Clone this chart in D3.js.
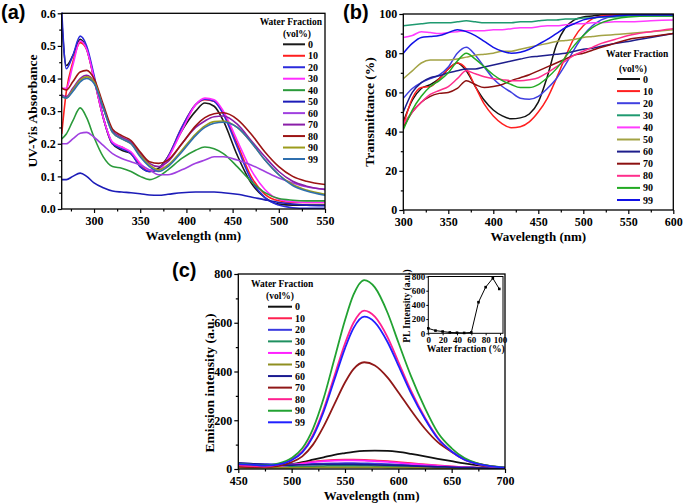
<!DOCTYPE html>
<html><head><meta charset="utf-8">
<script src="https://cdn.jsdelivr.net/npm/d3@7"></script>
<style>body{margin:0;background:#fff}svg{display:block}</style>
</head><body><svg id="c" width="685" height="503"></svg>
<script>
// ---------- shared ----------
const fractions = ["0","10","20","30","40","50","60","70","80","90","99"];

// ---------- panel (a): UV-Vis absorbance ----------
const wlA = [265,270,277,285,292,300,310,320,330,340,350,360,370,380,395,410,420,430,440,455,470,485,500,515,530,550];
const absA = [
 [0.58,0.44,0.47,0.52,0.49,0.40,0.28,0.20,0.18,0.17,0.13,0.115,0.125,0.16,0.24,0.30,0.325,0.315,0.27,0.165,0.08,0.035,0.015,0.012,0.012,0.012],
 [0.23,0.36,0.45,0.51,0.49,0.40,0.28,0.20,0.19,0.17,0.135,0.115,0.12,0.16,0.25,0.32,0.335,0.33,0.295,0.20,0.10,0.045,0.025,0.02,0.02,0.02],
 [0.61,0.43,0.47,0.53,0.50,0.41,0.28,0.20,0.185,0.17,0.13,0.115,0.12,0.16,0.25,0.32,0.337,0.33,0.29,0.19,0.09,0.035,0.012,0.004,0.002,0.002],
 [0.37,0.37,0.44,0.515,0.49,0.40,0.28,0.205,0.19,0.175,0.14,0.12,0.12,0.155,0.24,0.32,0.34,0.335,0.30,0.21,0.12,0.06,0.03,0.022,0.02,0.02],
 [0.215,0.23,0.27,0.31,0.28,0.22,0.16,0.13,0.125,0.115,0.10,0.09,0.10,0.12,0.155,0.18,0.19,0.185,0.17,0.13,0.085,0.05,0.032,0.027,0.025,0.025],
 [0.09,0.09,0.10,0.11,0.10,0.08,0.065,0.055,0.052,0.05,0.047,0.043,0.042,0.045,0.05,0.052,0.052,0.052,0.05,0.045,0.037,0.028,0.02,0.015,0.012,0.01],
 [0.20,0.20,0.215,0.232,0.235,0.22,0.195,0.17,0.155,0.145,0.135,0.12,0.105,0.105,0.12,0.14,0.15,0.16,0.16,0.15,0.135,0.115,0.095,0.08,0.068,0.06],
 [0.35,0.345,0.37,0.40,0.41,0.39,0.31,0.24,0.22,0.205,0.17,0.14,0.13,0.145,0.20,0.25,0.27,0.283,0.285,0.26,0.21,0.16,0.115,0.085,0.07,0.06],
 [0.37,0.365,0.39,0.42,0.425,0.40,0.32,0.245,0.225,0.21,0.175,0.145,0.14,0.15,0.20,0.255,0.28,0.292,0.295,0.275,0.23,0.175,0.13,0.10,0.085,0.075],
 [0.345,0.34,0.365,0.395,0.405,0.39,0.31,0.235,0.215,0.20,0.165,0.135,0.12,0.135,0.18,0.23,0.255,0.268,0.27,0.25,0.205,0.15,0.105,0.075,0.058,0.045],
 [0.345,0.34,0.36,0.39,0.40,0.385,0.31,0.235,0.215,0.20,0.16,0.13,0.115,0.13,0.175,0.225,0.25,0.263,0.266,0.25,0.205,0.15,0.105,0.072,0.055,0.042]
];
const colorsA = ["#1a1a1a","#ff1f1f","#2b2bdc","#ff2cff","#2a9a3a","#1c1cb8","#a040e0","#8a1ea8","#9c1414","#9c9c1c","#2f6fae"];
const yTicksA = [0,0.1,0.2,0.3,0.4,0.5,0.6];
const xTicksA = [300,350,400,450,500,550];

// ---------- panel (b): transmittance ----------
const wlB = [300,310,320,330,340,350,360,370,380,390,400,410,420,430,440,450,460,470,480,490,500,510,520,535,550,575,600];
const transB = [
 [45,56,62,64,67,72,75,71,63,56,51,48,46.5,47,49,55,68,84,93,97,98.5,99,99.5,99.5,99.5,99.5,99.5],
 [43,57,62.5,63,67,72,75,72,63,54,48,44,42,42.5,45,50,57,67,78,88,94,97.5,99,99.5,99.5,99.5,99.5],
 [57,62,65,67,69,73,80,83,79,73,67,63,60,57,56.5,58,62,67,74,82,89,94,97,99,99.5,99.5,99.5],
 [94,94.5,95,95.5,95.5,95.5,96,96.5,96,95.5,95.5,95.5,95.5,96,96,96.5,97,97,97.5,97.5,98,98,98.5,98.5,99,99,99],
 [88,89,91,90.5,90,90.5,91,91.5,91.5,91.5,92,92,92.5,93,93,93.5,94,94,94.5,95,95,95.5,95.5,96,96,96.5,97],
 [67,71,75,76.5,76.5,76.5,77,78,79,79.5,80,81,81,82,83,84,85,86,86.5,87,88,88.5,89,89.5,90,91,92],
 [50,60,65,67.5,68.5,70,71,72,72,73,74,75,76,77,78,78.5,79,79.5,80,81,82,82.5,83.5,85,86,88,90],
 [42,50,55,58,59.5,60,62,66,64,62.5,63,64,66,67.5,69,71,73,75,77,79,80,81.5,83,85,87,88.5,90],
 [44,50,55,59,61,63,67,71,69.5,68,67,66.5,66,66,66.5,67.5,70,73,76,79,81,83,85,87,89,91,92.5],
 [41,51,58,63,66,70,76,80,77,73,69,66,64,62.5,62.5,64,67.5,72,78,84,89,93,95.5,97.5,98.5,99,99],
 [80,85,88,88.5,89,90.5,92,91,89,86,83,81,80,80.5,82,84.5,87,90,93,95,97,98,98.5,99,99.5,99.5,99.5]
];
const colorsB = ["#141414","#ff2020","#4040e0","#1f9a70","#ff3cff","#a3a345","#1e1e8c","#8c1010","#ff2e8c","#22aa22","#1212e6"];
const yTicksB = [0,20,40,60,80,100];
const xTicksB = [300,350,400,450,500,550,600];

// ---------- panel (c): emission ----------
const wlC = [450,462,475,487,500,510,520,530,540,550,558,568,578,590,600,612,625,637,650,662,675,687,700];
const emC = [
 [15,12,12,14,20,28,38,48,58,65,70,74,75,74,70,62,52,42,32,23,15,9,5],
 [10,9,9,12,18,24,30,34,37,38,38,37,35,32,28,24,19,15,11,8,6,4,3],
 [22,21,20,19,19,20,21,22,23,24,24,23,22,20,18,16,13,11,9,7,5,4,3],
 [12,10,9,9,9,10,11,12,13,13,13,13,12,11,10,9,8,7,6,5,4,3,2],
 [12,11,10,12,17,22,28,32,34,35,35,34,32,29,25,21,17,13,10,7,5,4,3],
 [6,5,5,5,5,6,6,7,7,7,7,7,7,6,6,5,5,4,4,3,3,2,2],
 [25,22,18,16,16,17,18,19,19,19,19,18,17,16,15,13,11,9,8,6,5,4,3],
 [10,8,8,12,28,52,100,175,265,355,410,438,425,375,315,240,165,110,70,40,22,12,6],
 [15,12,10,18,38,72,140,245,380,515,600,650,625,540,440,320,210,128,72,38,19,10,6],
 [22,18,15,22,45,85,165,290,450,610,715,775,745,640,520,380,250,150,85,45,22,12,7],
 [20,18,14,18,36,68,133,235,365,495,578,625,602,520,425,310,205,125,72,38,20,11,6]
];
const colorsC = ["#111111","#ff2050","#3a3ae0","#1f9060","#ff20ff","#8f8f20","#1a1a90","#901818","#ff2090","#22a232","#2020ff"];
const yTicksC = [0,200,400,600,800];
const xTicksC = [450,500,550,600,650,700];

// inset
const insetFrac = [0,10,20,30,40,50,60,70,80,90,99];
const insetPL = [70,38,25,12,8,5,12,438,650,775,625];
const insetXTicks = [0,20,40,60,80,100];
const insetYTicks = [0,200,400,600,800];

// ---------- drawing ----------
const svg = d3.select("#c");
svg.append("rect").attr("width",685).attr("height",503).attr("fill","#fff");
const SERIF = "'Liberation Serif','Times New Roman',serif";
const SANS = "'Liberation Sans',Arial,sans-serif";

function minorVals(maj){
  const out=[]; for(let i=0;i<maj.length-1;i++) out.push((maj[i]+maj[i+1])/2); return out;
}

function panel(c){
  const g = svg.append("g");
  const x = d3.scaleLinear().domain(c.xDom).range([c.L,c.R]);
  const y = d3.scaleLinear().domain(c.yDom).range([c.B,c.T]);
  const line = d3.line().curve(d3.curveMonotoneX).x(d=>x(d[0])).y(d=>y(d[1]));
  const clip = "clip"+c.id;
  g.append("clipPath").attr("id",clip).append("rect").attr("x",c.L).attr("y",c.T-1).attr("width",c.R-c.L).attr("height",c.B-c.T+1);
  const cg = g.append("g").attr("clip-path",`url(#${clip})`);
  c.vals.forEach((v,i)=>{
    cg.append("path").attr("d",line(c.wl.map((w,j)=>[w,v[j]])))
      .attr("fill","none").attr("stroke",c.colors[i]).attr("stroke-width",c.lw);
  });
  const styleAxis = a=>{a.select(".domain").remove(); a.selectAll("line").attr("stroke","#000").attr("stroke-width",1.2);
    a.selectAll("text").attr("font-family",SERIF).attr("font-weight","bold").attr("font-size",12).attr("fill","#000");};
  const xmin = c.xMinor || minorVals(c.xTicks);
  const ymin = c.yMinor || minorVals(c.yTicks);
  g.append("g").attr("transform",`translate(0,${c.B})`).call(d3.axisBottom(x).tickValues(xmin).tickSize(2.5).tickFormat("")).call(styleAxis);
  g.append("g").attr("transform",`translate(${c.L},0)`).call(d3.axisLeft(y).tickValues(ymin).tickSize(2.5).tickFormat("")).call(styleAxis);
  g.append("g").attr("transform",`translate(0,${c.B})`).call(d3.axisBottom(x).tickValues(c.xTicks).tickSize(4).tickPadding(3).tickFormat(d3.format("d"))).call(styleAxis);
  g.append("g").attr("transform",`translate(${c.L},0)`).call(d3.axisLeft(y).tickValues(c.yTicks).tickSize(4).tickPadding(2).tickFormat(c.yFmt)).call(styleAxis);
  g.append("rect").attr("x",c.L).attr("y",c.T).attr("width",c.R-c.L).attr("height",c.B-c.T)
    .attr("fill","none").attr("stroke","#000").attr("stroke-width",1.3);
  g.append("text").attr("x",(c.L+c.R)/2 + (c.xtDx||0)).attr("y",c.xtY).attr("text-anchor","middle")
    .attr("font-family",SERIF).attr("font-weight","bold").attr("font-size",13).text(c.xTitle);
  g.append("text").attr("transform",`translate(${c.ytX},${c.ytY}) rotate(-90)`).attr("text-anchor","middle")
    .attr("font-family",SERIF).attr("font-weight","bold").attr("font-size",13.5).text(c.yTitle);
  g.append("text").attr("x",c.labX).attr("y",c.labY).attr("font-family",SANS).attr("font-weight","bold")
    .attr("font-size",20).text(c.label);
  const lg = c.leg;
  g.append("text").attr("x",lg.t1x).attr("y",lg.t1y).attr("text-anchor",lg.t1a).attr("font-family",SERIF)
    .attr("font-weight","bold").attr("font-size",9.5).text("Water Fraction");
  g.append("text").attr("x",lg.t2x).attr("y",lg.t2y).attr("text-anchor","middle").attr("font-family",SERIF)
    .attr("font-weight","bold").attr("font-size",9.5).text("(vol%)");
  fractions.forEach((f,i)=>{
    const yy = lg.y0 + i*lg.dy;
    g.append("line").attr("x1",lg.x1).attr("x2",lg.x2).attr("y1",yy).attr("y2",yy)
      .attr("stroke",c.colors[i]).attr("stroke-width",2);
    g.append("text").attr("x",lg.x2+3).attr("y",yy+3.5).attr("font-family",SERIF).attr("font-weight","bold")
      .attr("font-size",10).text(f);
  });
  return g;
}

panel({id:"a",L:61.7,R:325,T:13.3,B:209,xDom:[265,550],yDom:[0,0.6],wl:wlA,vals:absA,colors:colorsA,lw:1.6,
  xTicks:xTicksA,yTicks:yTicksA,xMinor:[275,325,375,425,475,525],yMinor:[0.05,0.15,0.25,0.35,0.45,0.55],yFmt:d3.format(".1f"),
  xTitle:"Wavelength (nm)",xtY:239.5,yTitle:"UV-Vis Absorbance",ytX:37,ytY:111,label:"(a)",labX:1,labY:19,
  leg:{t1x:322,t1y:25,t1a:"end",t2x:297,t2y:37,x1:283,x2:305,y0:44.3,dy:11.47}});

panel({id:"b",L:403.3,R:673.3,T:14,B:210,xDom:[300,600],yDom:[0,100],wl:wlB,vals:transB,colors:colorsB,lw:1.5,
  xTicks:xTicksB,yTicks:yTicksB,yFmt:d3.format("d"),
  xTitle:"Wavelength (nm)",xtY:240.5,yTitle:"Transmittance (%)",ytX:373.5,ytY:112,label:"(b)",labX:343,labY:19,
  leg:{t1x:606,t1y:57,t1a:"start",t2x:633,t2y:72,x1:617,x2:640,y0:79,dy:12.1}});

panel({id:"c",L:238.3,R:505,T:274,B:469,xDom:[450,700],yDom:[0,800],wl:wlC,vals:emC,colors:colorsC,lw:1.8,
  xTicks:xTicksC,yTicks:yTicksC,yFmt:d3.format("d"),
  xTitle:"Wavelength (nm)",xtY:499.5,yTitle:"Emission intensity (a.u.)",ytX:213.5,ytY:383,label:"(c)",labX:172,labY:277,
  leg:{t1x:251,t1y:287,t1a:"start",t2x:280,t2y:299,x1:268,x2:292,y0:306.7,dy:11.56}});

// inset
(function(){
  const L=428.3,R=503,T=276.5,B=333.3;
  const g = svg.append("g");
  const x = d3.scaleLinear().domain([0,100]).range([L,500]);
  const y = d3.scaleLinear().domain([0,800]).range([B,T]);
  g.append("rect").attr("x",L).attr("y",T).attr("width",R-L).attr("height",B-T).attr("fill","#fff")
    .attr("stroke","#000").attr("stroke-width",1);
  const st = a=>{a.select(".domain").remove(); a.selectAll("line").attr("stroke","#000");
    a.selectAll("text").attr("font-family",SERIF).attr("font-weight","bold").attr("font-size",9).attr("fill","#000");};
  g.append("g").attr("transform",`translate(0,${B})`).call(d3.axisBottom(x).tickValues(insetXTicks).tickSize(2).tickPadding(1).tickFormat(d3.format("d"))).call(st);
  g.append("g").attr("transform",`translate(${L},0)`).call(d3.axisLeft(y).tickValues(insetYTicks).tickSize(2).tickPadding(1).tickFormat(d3.format("d"))).call(st);
  const pts = insetFrac.map((f,i)=>[f,insetPL[i]]);
  g.append("path").attr("d",d3.line().x(d=>x(d[0])).y(d=>y(d[1]))(pts)).attr("fill","none").attr("stroke","#000").attr("stroke-width",1);
  g.selectAll("rect.pt").data(pts).enter().append("rect").attr("class","pt")
    .attr("x",d=>x(d[0])-1.3).attr("y",d=>y(d[1])-1.3).attr("width",2.6).attr("height",2.6).attr("fill","#000");
  g.append("text").attr("x",(L+R)/2).attr("y",352).attr("text-anchor","middle").attr("font-family",SERIF)
    .attr("font-weight","bold").attr("font-size",9.5).text("Water fraction (%)");
  g.append("text").attr("transform",`translate(${410},${306}) rotate(-90)`).attr("text-anchor","middle").attr("font-family",SERIF)
    .attr("font-weight","bold").attr("font-size",9.5).text("PL Intensity (a.u.)");
})();
</script></body></html>
